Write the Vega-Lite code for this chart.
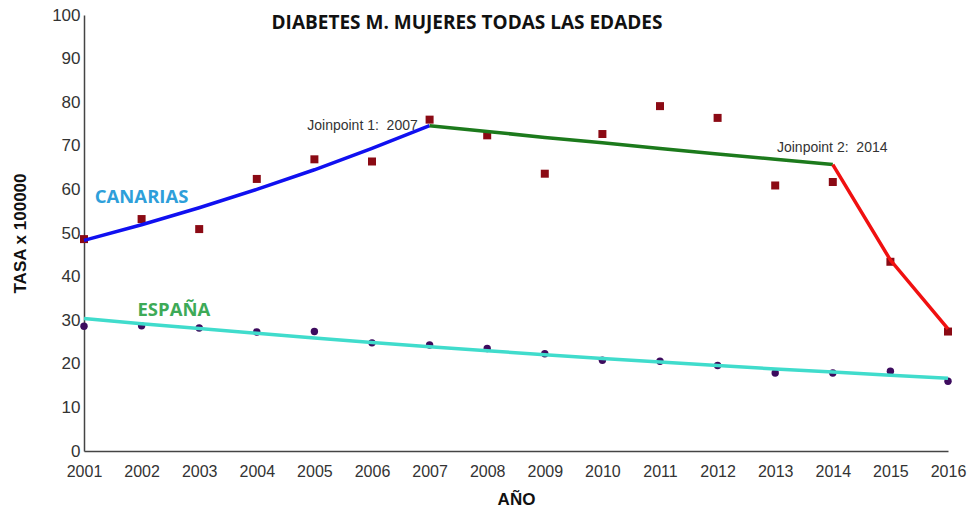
{
  "$schema": "https://vega.github.io/schema/vega-lite/v6.json",
  "width": 864,
  "height": 436,
  "autosize": {"type": "none"},
  "padding": {"left": 84, "top": 15, "right": 23, "bottom": 61},
  "background": "white",
  "config": {
    "view": {"stroke": null},
    "axis": {
      "grid": false,
      "ticks": false,
      "domainColor": "#444444",
      "domainWidth": 1.5,
      "labelColor": "#333333",
      "labelFont": "Liberation Sans",
      "titleFont": "Liberation Sans",
      "titleColor": "#111111",
      "titleFontWeight": "bold"
    }
  },
  "title": {
    "text": "DIABETES M. MUJERES TODAS LAS EDADES",
    "font": "Open Sans",
    "fontSize": 19,
    "fontWeight": "bold",
    "color": "#111111",
    "anchor": "middle",
    "dx": -49,
    "offset": -27
  },
  "datasets": {
    "obs": [
      {"year": 2001, "region": "Canarias", "value": 48.6},
      {"year": 2002, "region": "Canarias", "value": 53.2},
      {"year": 2003, "region": "Canarias", "value": 50.9},
      {"year": 2004, "region": "Canarias", "value": 62.4},
      {"year": 2005, "region": "Canarias", "value": 66.9},
      {"year": 2006, "region": "Canarias", "value": 66.4},
      {"year": 2007, "region": "Canarias", "value": 76.0},
      {"year": 2008, "region": "Canarias", "value": 72.4},
      {"year": 2009, "region": "Canarias", "value": 63.6},
      {"year": 2010, "region": "Canarias", "value": 72.7},
      {"year": 2011, "region": "Canarias", "value": 79.1},
      {"year": 2012, "region": "Canarias", "value": 76.4},
      {"year": 2013, "region": "Canarias", "value": 60.9},
      {"year": 2014, "region": "Canarias", "value": 61.7},
      {"year": 2015, "region": "Canarias", "value": 43.4},
      {"year": 2016, "region": "Canarias", "value": 27.4},
      {"year": 2001, "region": "España", "value": 28.6},
      {"year": 2002, "region": "España", "value": 28.7},
      {"year": 2003, "region": "España", "value": 28.2},
      {"year": 2004, "region": "España", "value": 27.3},
      {"year": 2005, "region": "España", "value": 27.4},
      {"year": 2006, "region": "España", "value": 24.8},
      {"year": 2007, "region": "España", "value": 24.3},
      {"year": 2008, "region": "España", "value": 23.5},
      {"year": 2009, "region": "España", "value": 22.3},
      {"year": 2010, "region": "España", "value": 20.8},
      {"year": 2011, "region": "España", "value": 20.6},
      {"year": 2012, "region": "España", "value": 19.6},
      {"year": 2013, "region": "España", "value": 17.9},
      {"year": 2014, "region": "España", "value": 17.9},
      {"year": 2015, "region": "España", "value": 18.3},
      {"year": 2016, "region": "España", "value": 16.0}
    ],
    "fit": [
      {"year": 2001, "segment": "Canarias 2001-2007", "value": 48.3},
      {"year": 2002, "segment": "Canarias 2001-2007", "value": 51.9},
      {"year": 2003, "segment": "Canarias 2001-2007", "value": 55.8},
      {"year": 2004, "segment": "Canarias 2001-2007", "value": 60.0},
      {"year": 2005, "segment": "Canarias 2001-2007", "value": 64.5},
      {"year": 2006, "segment": "Canarias 2001-2007", "value": 69.4},
      {"year": 2007, "segment": "Canarias 2001-2007", "value": 74.6},
      {"year": 2007, "segment": "Canarias 2007-2014", "value": 74.6},
      {"year": 2008, "segment": "Canarias 2007-2014", "value": 73.3},
      {"year": 2009, "segment": "Canarias 2007-2014", "value": 71.9},
      {"year": 2010, "segment": "Canarias 2007-2014", "value": 70.7},
      {"year": 2011, "segment": "Canarias 2007-2014", "value": 69.4},
      {"year": 2012, "segment": "Canarias 2007-2014", "value": 68.1},
      {"year": 2013, "segment": "Canarias 2007-2014", "value": 66.9},
      {"year": 2014, "segment": "Canarias 2007-2014", "value": 65.7},
      {"year": 2014, "segment": "Canarias 2014-2016", "value": 65.7},
      {"year": 2015, "segment": "Canarias 2014-2016", "value": 43.8},
      {"year": 2016, "segment": "Canarias 2014-2016", "value": 28.0},
      {"year": 2001, "segment": "España", "value": 30.4},
      {"year": 2002, "segment": "España", "value": 29.2},
      {"year": 2003, "segment": "España", "value": 28.1},
      {"year": 2004, "segment": "España", "value": 27.0},
      {"year": 2005, "segment": "España", "value": 25.9},
      {"year": 2006, "segment": "España", "value": 24.9},
      {"year": 2007, "segment": "España", "value": 23.9},
      {"year": 2008, "segment": "España", "value": 23.0},
      {"year": 2009, "segment": "España", "value": 22.1},
      {"year": 2010, "segment": "España", "value": 21.2},
      {"year": 2011, "segment": "España", "value": 20.4},
      {"year": 2012, "segment": "España", "value": 19.6},
      {"year": 2013, "segment": "España", "value": 18.8},
      {"year": 2014, "segment": "España", "value": 18.1},
      {"year": 2015, "segment": "España", "value": 17.4},
      {"year": 2016, "segment": "España", "value": 16.7}
    ]
  },
  "encoding": {
    "x": {
      "field": "year",
      "type": "quantitative",
      "scale": {"domain": [2001, 2016], "nice": false, "zero": false},
      "axis": {
        "title": "AÑO",
        "values": [2001, 2002, 2003, 2004, 2005, 2006, 2007, 2008, 2009, 2010, 2011, 2012, 2013, 2014, 2015, 2016],
        "format": "d",
        "labelFontSize": 16,
        "labelPadding": 12,
        "labelFlush": false,
        "titleFontSize": 17,
        "titlePadding": 12
      }
    },
    "y": {
      "field": "value",
      "type": "quantitative",
      "scale": {"domain": [0, 100], "nice": false},
      "axis": {
        "title": "TASA x 100000",
        "values": [0, 10, 20, 30, 40, 50, 60, 70, 80, 90, 100],
        "labelFontSize": 17,
        "labelPadding": 4,
        "labelFlush": false,
        "titleFontSize": 17,
        "titlePadding": 22
      }
    }
  },
  "layer": [
    {
      "data": {"name": "obs"},
      "transform": [{"filter": "datum.region === 'Canarias'"}],
      "mark": {"type": "point", "shape": "square", "filled": true, "size": 64, "color": "#8B0A14", "opacity": 1}
    },
    {
      "data": {"name": "obs"},
      "transform": [{"filter": "datum.region === 'España'"}],
      "mark": {"type": "point", "shape": "circle", "filled": true, "size": 55, "color": "#3D0B5E", "opacity": 1}
    },
    {
      "data": {"name": "fit"},
      "mark": {"type": "line", "strokeWidth": 3.5, "interpolate": "linear"},
      "encoding": {
        "color": {
          "field": "segment",
          "type": "nominal",
          "legend": null,
          "scale": {
            "domain": ["Canarias 2001-2007", "Canarias 2007-2014", "Canarias 2014-2016", "España"],
            "range": ["#1010F0", "#1C7A1C", "#F01010", "#40DCCC"]
          }
        },
        "detail": {"field": "segment"}
      }
    },
    {
      "data": {"values": [{"year": 2002.0, "value": 58.2, "label": "CANARIAS"}]},
      "mark": {"type": "text", "font": "Open Sans", "fontWeight": "bold", "fontSize": 18.5, "color": "#2E9FDA", "align": "center", "baseline": "middle"},
      "encoding": {"text": {"field": "label"}}
    },
    {
      "data": {"values": [{"year": 2002.56, "value": 32.3, "label": "ESPAÑA"}]},
      "mark": {"type": "text", "font": "Open Sans", "fontWeight": "bold", "fontSize": 18.5, "color": "#3DAA57", "align": "center", "baseline": "middle"},
      "encoding": {"text": {"field": "label"}}
    },
    {
      "data": {"values": [
        {"year": 2005.835, "value": 74.5, "label": "Joinpoint 1:\u00a0 2007"},
        {"year": 2013.99, "value": 69.5, "label": "Joinpoint 2:\u00a0 2014"}
      ]},
      "mark": {"type": "text", "font": "Liberation Sans", "fontSize": 14, "color": "#333333", "align": "center", "baseline": "middle"},
      "encoding": {"text": {"field": "label"}}
    }
  ]
}
